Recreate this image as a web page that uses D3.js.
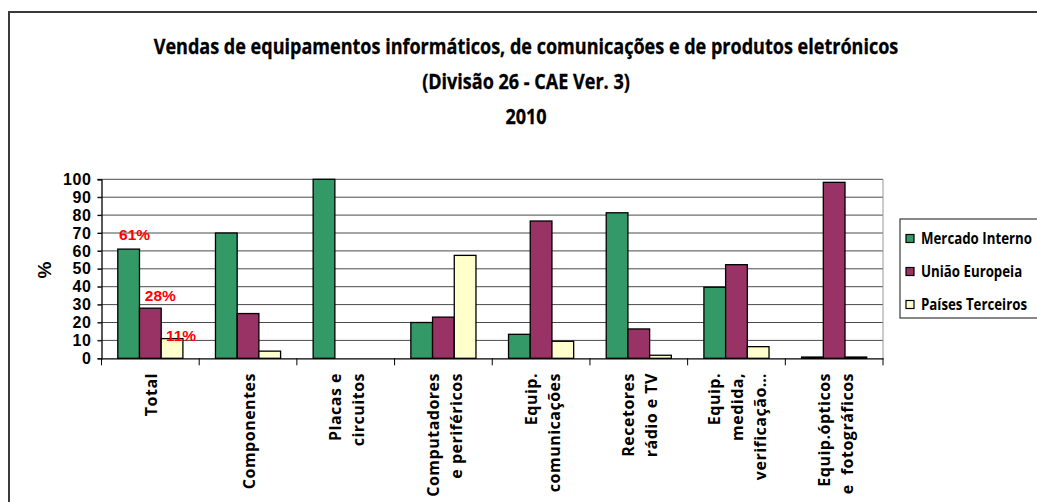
<!DOCTYPE html>
<html lang="pt">
<head>
  <meta charset="UTF-8">
  <title>Vendas 2010</title>
  <script src="https://cdn.jsdelivr.net/npm/d3@7"></script>
  <style>
    body { margin: 0; background: #fff; }
    svg { display: block; }
  </style>
</head>
<body>
<svg></svg>
<script>
  const width = 1037, height = 502

  // dados
  const titleLines = ['Vendas de equipamentos informáticos, de comunicações e de produtos eletrónicos',
    '(Divisão 26 - CAE Ver. 3)', '2010']
  const categories = ['Total', 'Componentes', 'Placas e\ncircuitos', 'Computadores\ne periféricos',
    'Equip.\ncomunicações', 'Recetores\nrádio e TV', 'Equip.\nmedida,\nverificação…', 'Equip.ópticos\ne  fotográficos']
  const seriesNames = ['Mercado Interno', 'União Europeia', 'Países Terceiros']
  const mercadoInterno = [61, 70, 100, 20, 13.4, 81.3, 39.7, 0.7]
  const uniaoEuropeia = [28, 25, 0, 23, 76.7, 16.4, 52.3, 98.3]
  const paisesTerceiros = [11, 4, 0, 57.5, 9.5, 1.7, 6.5, 0.7]
  const colors = ['#339966', '#993366', '#ffffcc']
  const yTicks = [0, 10, 20, 30, 40, 50, 60, 70, 80, 90, 100]
  const totalLabels = ['61%', '28%', '11%']

  const values = [mercadoInterno, uniaoEuropeia, paisesTerceiros]
  const rows = categories.map((c, i) => ({cat: c, vals: values.map(v => v[i])}))

  const svg = d3.select('svg')
      .attr('width', width)
      .attr('height', height)
      .style('font-family', '"Open Sans", sans-serif')

  // moldura
  svg.append('rect')
      .attr('x', 9).attr('y', 12)
      .attr('width', width + 20).attr('height', height + 20)
      .attr('fill', 'none').attr('stroke', '#3a3a3a').attr('stroke-width', 2)

  // encolhe o texto na horizontal (tipo Calibri)
  function condense(sel, k) {
    sel.each(function () {
      const t = d3.select(this)
      const tx = +t.attr('x') || 0, ty = +t.attr('y') || 0
      t.attr('x', 0).attr('y', 0)
          .attr('transform', `translate(${tx},${ty}) scale(${k},1)`)
    })
  }

  // titulo
  const title = svg.append('g').selectAll('text')
      .data(titleLines)
      .join('text')
      .attr('x', 526)
      .attr('y', (d, i) => 54 + i * 35)
      .attr('text-anchor', 'middle')
      .attr('font-size', 20.5)
      .attr('font-weight', 'bold')
      .attr('stroke', '#000').attr('stroke-width', 0.3)
      .text(d => d)
  const kTitle = 745 / title.node().getComputedTextLength()
  condense(title, kTitle)

  const plot = {left: 101.5, right: 883, top: 179.3, bottom: 358.3}

  const x = d3.scaleBand()
      .domain(categories)
      .range([plot.left, plot.right])

  const xs = d3.scaleBand()
      .domain(seriesNames)
      .range([0, x.bandwidth()])
      .paddingOuter(0.75)

  const y = d3.scaleLinear()
      .domain([0, 100])
      .range([plot.bottom, plot.top])

  // grelha
  svg.append('g')
      .selectAll('line')
      .data(yTicks.filter(d => d > 0))
      .join('line')
      .attr('x1', plot.left - 4).attr('x2', plot.right)
      .attr('y1', d => y(d)).attr('y2', d => y(d))
      .attr('stroke', '#4a4a4a').attr('stroke-width', 1)

  svg.append('line')
      .attr('x1', plot.right).attr('x2', plot.right)
      .attr('y1', plot.top).attr('y2', plot.bottom)
      .attr('stroke', '#999')

  // barras
  svg.append('g')
      .selectAll('g')
      .data(rows)
      .join('g')
      .attr('transform', d => `translate(${x(d.cat)},0)`)
      .selectAll('rect')
      .data(d => d.vals.map((v, i) => ({s: seriesNames[i], v, i})).filter(d => d.v > 0))
      .join('rect')
      .attr('x', d => xs(d.s))
      .attr('width', xs.bandwidth())
      .attr('y', d => y(d.v))
      .attr('height', d => y(0) - y(d.v))
      .attr('fill', d => colors[d.i])
      .attr('stroke', '#000').attr('stroke-width', 1.3)

  // eixo Y
  const yAxis = svg.append('g')
      .attr('transform', `translate(${plot.left},0)`)
      .call(d3.axisLeft(y).tickValues(yTicks).tickSize(4).tickPadding(6))
  yAxis.select('.domain').attr('stroke', '#000').attr('stroke-width', 1.3)
  yAxis.selectAll('.tick line').attr('stroke', '#000')
  yAxis.selectAll('.tick text')
      .attr('font-family', '"Liberation Sans", Arial, sans-serif')
      .attr('font-size', 16)
      .attr('font-weight', 'bold')
      .attr('letter-spacing', 0.6)
      .attr('fill', '#000')

  svg.append('text')
      .attr('transform', 'translate(51,270) rotate(-90)')
      .attr('text-anchor', 'middle')
      .attr('font-family', '"Liberation Sans", Arial, sans-serif')
      .attr('font-size', 19)
      .attr('font-weight', 'bold')
      .text('%')

  // eixo X
  const xAxis = svg.append('g')
      .attr('transform', `translate(0,${plot.bottom})`)
      .call(d3.axisBottom(x).tickSize(0).tickFormat(''))
  xAxis.select('.domain').attr('stroke', '#000').attr('stroke-width', 1.3)

  svg.append('g')
      .selectAll('line')
      .data(categories.concat(['']))
      .join('line')
      .attr('x1', (d, i) => i < categories.length ? x(d) : plot.right)
      .attr('x2', (d, i) => i < categories.length ? x(d) : plot.right)
      .attr('y1', plot.bottom).attr('y2', plot.bottom + 7)
      .attr('stroke', '#000')

  const catLabels = svg.append('g')
      .selectAll('text')
      .data(categories)
      .join('text')
      .attr('transform', d => `translate(${x(d) + x.bandwidth() / 2},373) rotate(-90)`)
      .attr('text-anchor', 'end')
      .attr('font-size', 16)
      .attr('font-weight', 'bold')
      .attr('letter-spacing', 0.5)

  catLabels.selectAll('tspan')
      .data(d => d.split('\n').map((t, i, a) => ({t, i, n: a.length})))
      .join('tspan')
      .attr('x', 0)
      .attr('y', d => (d.i - (d.n - 1) / 2) * 23 + 7)
      .style('white-space', 'pre')
      .text(d => d.t)

  // rótulos do Total
  const labelDx = [6, 10, 9], labelDy = [-9, -7, 2]
  svg.append('g')
      .selectAll('text')
      .data(totalLabels)
      .join('text')
      .attr('x', (d, i) => x(categories[0]) + xs(seriesNames[i]) + xs.bandwidth() / 2 + labelDx[i])
      .attr('y', (d, i) => y(values[i][0]) + labelDy[i])
      .attr('text-anchor', 'middle')
      .attr('font-family', '"Liberation Sans", Arial, sans-serif')
      .attr('font-size', 15.5)
      .attr('font-weight', 'bold')
      .attr('fill', '#ff0000')
      .text(d => d)

  // legenda
  const legend = svg.append('g').attr('transform', 'translate(900,219)')
  legend.append('rect')
      .attr('width', 160).attr('height', 99)
      .attr('fill', '#fff').attr('stroke', '#3a3a3a').attr('stroke-width', 1.2)

  const item = legend.selectAll('g')
      .data(seriesNames)
      .join('g')
      .attr('transform', (d, i) => `translate(6,${19 + i * 33})`)
  item.append('rect')
      .attr('y', -3.5).attr('width', 8).attr('height', 8)
      .attr('fill', (d, i) => colors[i])
      .attr('stroke', '#000').attr('stroke-width', 1.2)
  const legendText = item.append('text')
      .attr('x', 15).attr('y', 6)
      .attr('font-size', 16.5)
      .attr('font-weight', 'bold')
      .text(d => d)
  const kLeg = 111 / legendText.node().getComputedTextLength()
  condense(legendText, kLeg)
</script>
</body>
</html>
